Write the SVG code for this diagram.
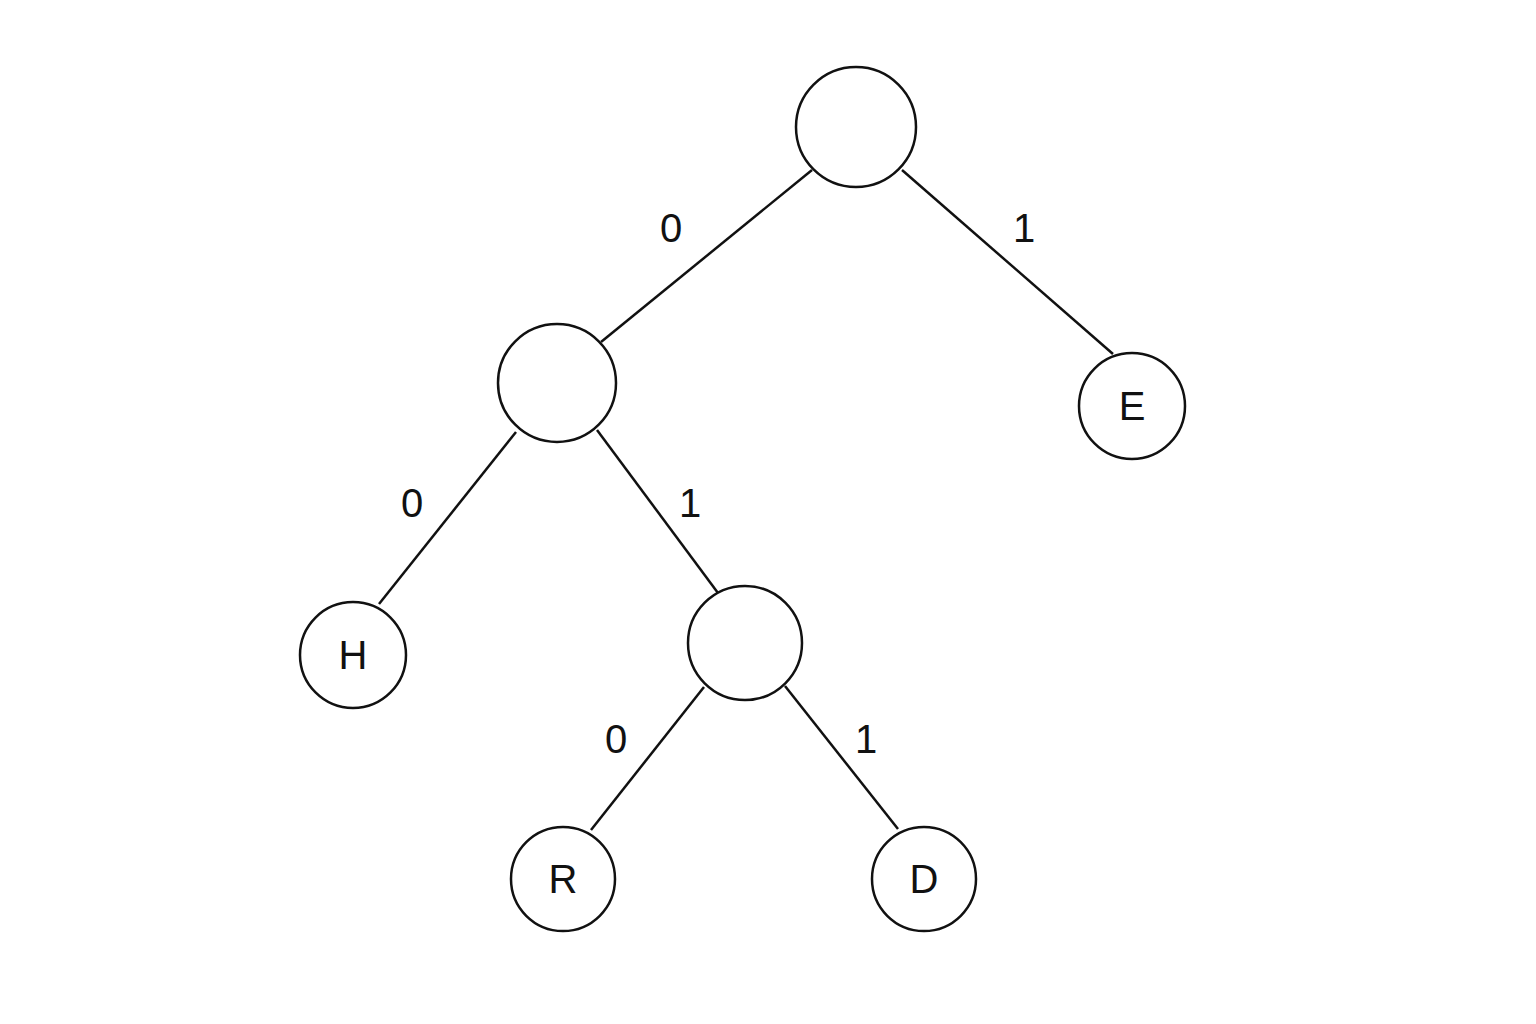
<svg xmlns="http://www.w3.org/2000/svg" width="1536" height="1024" viewBox="0 0 1536 1024">
<style>
.n{fill:#fff;stroke:#111;stroke-width:2.5}
.e{stroke:#111;stroke-width:2.5}
text{font-family:"Liberation Sans",Arial,sans-serif;font-size:40px;fill:#111;text-anchor:middle;dominant-baseline:central}
</style>
<rect width="1536" height="1024" fill="#fff"/>
<g id="edges">
<line class="e" x1="812" y1="170" x2="601" y2="342"/>
<line class="e" x1="902" y1="170" x2="1113" y2="354"/>
<line class="e" x1="516" y1="432" x2="379" y2="604"/>
<line class="e" x1="597" y1="430" x2="718" y2="593"/>
<line class="e" x1="704" y1="687" x2="591" y2="830"/>
<line class="e" x1="785" y1="686" x2="898" y2="829"/>
<text x="671" y="228">0</text>
<text x="1024" y="228">1</text>
<text x="412" y="503">0</text>
<text x="690" y="503">1</text>
<text x="616" y="739">0</text>
<text x="866" y="739">1</text>
</g>
<g id="root"><circle class="n" cx="856" cy="127" r="60"/></g>
<g id="left"><circle class="n" cx="557" cy="383" r="59"/></g>
<g id="E"><circle class="n" cx="1132" cy="406" r="53"/><text x="1132" y="406">E</text></g>
<g id="H"><circle class="n" cx="353" cy="655" r="53"/><text x="353" y="655">H</text></g>
<g id="mid"><circle class="n" cx="745" cy="643" r="57"/></g>
<g id="R"><circle class="n" cx="563" cy="879" r="52"/><text x="563" y="879">R</text></g>
<g id="D"><circle class="n" cx="924" cy="879" r="52"/><text x="924" y="879">D</text></g>
</svg>
